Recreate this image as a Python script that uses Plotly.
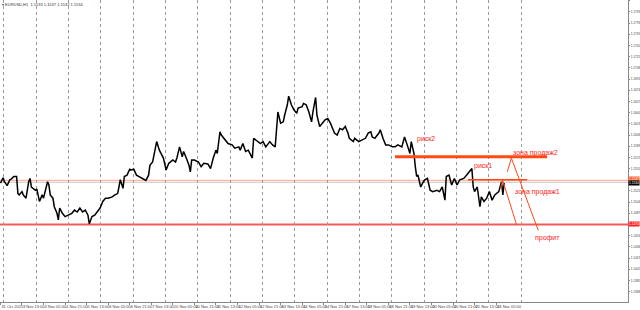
import plotly.graph_objects as go

# ---- data (H1 bars, index from 31 Oct 2025 21:00) ----
bars = [0,2,3,5,7,8,10,12,13,14,
        16,17,19,21,22,23,26,27,29,31,
        32,33,35,36,37,39,40,42,43,44,
        46,48,50,53,55,57,59,61,63,65,
        66,68,70,72,74,76,78,80,83,85,
        87,88,89,91,92,94,96,97,99,101,
        104,106,108,110,111,113,115,116,118,120,
        121,123,125,128,130,131,133,135,136,138,
        140,141,142,144,147,149,151,154,156,158,
        160,161,163,164,167,169,172,174,177,178,
        180,182,184,186,187,188,190,193,195,197,
        200,202,204,205,206,208,210,211,213,214,
        216,218,220,221,224,225,227,229,231,232,
        234,235,237,239,241,243,245,247,248,250,
        252,254,256,258,259,262,263,266,268,271,
        273,275,276,278,281,282,284,286,288,291,
        293,295,298,300,302,304,305,307,308,309,
        310,312,314,315,317,319,321,324,326,328,
        330,331,333,335,337,339,341,344,346,349,
        350,351,352,354,355,356,357,359,361,363,
        365,367,370,371,372,373,374]
prices = [1.1533,1.1541,1.1535,1.1529,1.1538,1.1539,1.1543,1.1543,1.1517,1.1515,
          1.1520,1.1515,1.1510,1.1535,1.1540,1.1527,1.1522,1.1524,1.1505,1.1515,
          1.1510,1.1517,1.1535,1.1530,1.1515,1.1510,1.1497,1.1487,1.1477,1.1495,
          1.1487,1.1482,1.1484,1.1487,1.1492,1.1489,1.1495,1.1489,1.1492,1.1484,
          1.1471,1.1482,1.1484,1.1489,1.1495,1.1505,1.1510,1.1510,1.1512,1.1515,
          1.1517,1.1527,1.1538,1.1525,1.1543,1.1545,1.1554,1.1553,1.1554,1.1545,
          1.1542,1.1539,1.1537,1.1545,1.1560,1.1565,1.1583,1.1596,1.1583,1.1576,
          1.1571,1.1553,1.1563,1.1568,1.1565,1.1571,1.1588,1.1573,1.1581,1.1571,
          1.1560,1.1550,1.1568,1.1568,1.1565,1.1558,1.1563,1.1562,1.1555,1.1571,
          1.1583,1.1578,1.1611,1.1606,1.1598,1.1593,1.1591,1.1586,1.1588,1.1583,
          1.1593,1.1581,1.1583,1.1573,1.1571,1.1601,1.1598,1.1593,1.1596,1.1588,
          1.1596,1.1591,1.1588,1.1621,1.1641,1.1624,1.1626,1.1636,1.1652,1.1665,
          1.1652,1.1644,1.1639,1.1647,1.1649,1.1654,1.1652,1.1641,1.1626,1.1641,
          1.1663,1.1636,1.1619,1.1624,1.1629,1.1631,1.1624,1.1614,1.1609,1.1606,
          1.1616,1.1614,1.1619,1.1609,1.1601,1.1596,1.1601,1.1596,1.1598,1.1601,
          1.1609,1.1611,1.1603,1.1601,1.1609,1.1614,1.1601,1.1591,1.1591,1.1588,
          1.1588,1.1591,1.1588,1.1603,1.1591,1.1578,1.1596,1.1578,1.1558,1.1543,
          1.1545,1.1527,1.1535,1.1538,1.1540,1.1522,1.1520,1.1522,1.1520,1.1527,
          1.1507,1.1543,1.1545,1.1530,1.1540,1.1530,1.1538,1.1540,1.1545,1.1553,
          1.1555,1.1527,1.1520,1.1527,1.1507,1.1497,1.1512,1.1505,1.1510,1.1520,
          1.1507,1.1515,1.1520,1.1530,1.1535,1.1515,1.1533]

time_ticks = [0,16,32,48,64,80,96,112,128,144,160,176,192,208,224,240,256,272,288,304,320,336,352,368]
time_labels = ["31 Oct 2025", "3 Nov 13:00", "4 Nov 05:00", "4 Nov 21:00", "5 Nov 13:00",
               "6 Nov 05:00", "6 Nov 21:00", "7 Nov 13:00", "10 Nov 05:00", "10 Nov 21:00",
               "11 Nov 13:00", "12 Nov 05:00", "12 Nov 21:00", "13 Nov 13:00", "14 Nov 05:00",
               "14 Nov 21:00", "17 Nov 13:00", "18 Nov 05:00", "18 Nov 21:00", "19 Nov 13:00",
               "20 Nov 05:00", "20 Nov 21:00", "21 Nov 13:00", "24 Nov 05:00"]
day_starts = [2.5,26.5,50.5,74.5,98.5,122.5,146.5,170.5,194.5,218.5,242.5,266.5,290.5,314.5,338.5,362.5,386.5]
# price scale labels (the two hidden under the price boxes are left out)
price_ticks = [1.1351,1.1368,1.1385,1.1402,1.1419,1.1436,1.1453,1.1487,1.1504,
               1.1521,1.1555,1.1572,1.1589,1.1606,1.1623,1.1640,1.1657,1.1674,
               1.1691,1.1708,1.1725,1.1742,1.1759,1.1776,1.1793,1.1810]

# analyst levels
support_level = 1.1470
pink_level = 1.1537
bid_price = 1.1534
sell_zone2_level = 1.1573
risk1_level = 1.1538

RED = "#ff2418"
ORANGE = "#ff4a14"

fig = go.Figure()
fig.add_trace(go.Scatter(x=bars, y=prices, mode="lines",
                         line=dict(color="black", width=1.5), hoverinfo="skip"))

shapes = []
shapes.append(dict(type="line", xref="paper", x0=0, x1=1, yref="y", y0=pink_level, y1=pink_level,
                   line=dict(color="#ffb7a6", width=1.5), layer="below"))
shapes.append(dict(type="line", xref="paper", x0=0, x1=1, yref="y", y0=bid_price, y1=bid_price,
                   line=dict(color="#d0d0d0", width=1), layer="below"))
shapes.append(dict(type="line", xref="paper", x0=0, x1=1, yref="y", y0=support_level, y1=support_level,
                   line=dict(color="#f25a5a", width=2), layer="below"))
shapes.append(dict(type="line", xref="x", yref="y", x0=292.9, x1=405.8, y0=sell_zone2_level, y1=sell_zone2_level,
                   line=dict(color=ORANGE, width=3)))
shapes.append(dict(type="line", xref="x", yref="y", x0=347.1, x1=391.0, y0=risk1_level, y1=risk1_level,
                   line=dict(color=ORANGE, width=1.5)))
shapes.append(dict(type="line", xref="x", yref="y", x0=379.3, y0=1.1571, x1=376.3, y1=1.1550,
                   line=dict(color=ORANGE, width=1)))
shapes.append(dict(type="line", xref="x", yref="y", x0=379.3, y0=1.1571, x1=399.3, y1=1.1461,
                   line=dict(color=ORANGE, width=1)))
shapes.append(dict(type="line", xref="x", yref="y", x0=372.9, y0=1.1537, x1=371.3, y1=1.1526,
                   line=dict(color=ORANGE, width=1)))
shapes.append(dict(type="line", xref="x", yref="y", x0=372.9, y0=1.1537, x1=383.3, y1=1.1469,
                   line=dict(color=ORANGE, width=1)))

annotations = []
def txt(x, y, s):
    annotations.append(dict(x=x, y=y, xref="x", yref="y", text=s, showarrow=False,
                            xanchor="left", yanchor="middle",
                            font=dict(family="Arial, Liberation Sans", size=7, color=RED)))
txt(307.5, 1.1600, "риск2")
txt(350.3, 1.1559, "риск1")
txt(379.3, 1.1579, "зона продаж2")
txt(380.2, 1.1520, "зона продаж1")
txt(395.5, 1.1449, "профит")

def box(y, s, bg):
    annotations.append(dict(x=1, y=y, xref="paper", yref="y", text=s, showarrow=False,
                            xanchor="left", yanchor="middle", bgcolor=bg, borderpad=0,
                            font=dict(family="Arial", size=3.2, color="white")))
box(pink_level + 0.0002, "1.1537", "#ff5a2a")
box(bid_price - 0.0001, "1.1534", "black")
box(support_level, "1.1470", "#ff2020")

annotations.append(dict(x=0, y=1, xref="paper", yref="paper", xanchor="left", yanchor="top",
                        text="▾ EURUSD,H1  1.1533 1.1537 1.1532 1.1534", showarrow=False,
                        font=dict(family="Arial", size=4, color="#333333")))

fig.update_layout(
    width=640, height=310, autosize=False,
    margin=dict(l=0, r=12, t=0, b=8, autoexpand=False),
    paper_bgcolor="white", plot_bgcolor="white",
    showlegend=False, shapes=shapes, annotations=annotations,
    xaxis=dict(range=[-0.3, 465.9], tickmode="array", tickvals=time_ticks, ticktext=time_labels,
               tickangle=0, automargin=False,
               ticklabelposition="outside right", tickfont=dict(family="Arial", size=4, color="#444"),
               ticks="outside", ticklen=2, tickcolor="#888", showgrid=False, zeroline=False,
               showline=True, linecolor="#888", linewidth=1,
               minor=dict(tickmode="array", tickvals=day_starts, showgrid=True, griddash="dot",
                          gridcolor="#9a9a9a", gridwidth=1, ticks="")),
    yaxis=dict(range=[1.13522, 1.18112], side="right", tickmode="array", tickvals=price_ticks,
               automargin=False, ticklabelstandoff=0,
               tickformat=".4f", tickfont=dict(family="Arial", size=3.2, color="#444"),
               ticks="outside", ticklen=1, tickcolor="#888", showgrid=False, zeroline=False,
               showline=True, linecolor="#888", linewidth=1),
)

fig.write_html("out.html")
